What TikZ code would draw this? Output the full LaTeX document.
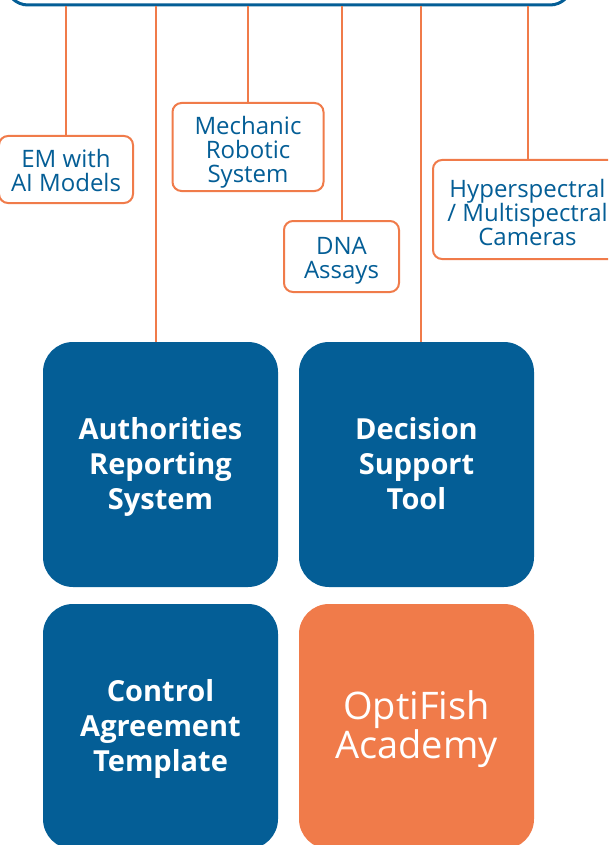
\documentclass[tikz,border=0pt]{standalone}
\usepackage{fontspec}
\setmainfont{Open Sans}
\definecolor{ofblue}{RGB}{4,94,150}
\definecolor{oforange}{RGB}{240,123,74}
\begin{document}
\begin{tikzpicture}[x=1pt,y=-1pt,
  smallbox/.style={draw=oforange,line width=2pt,rounded corners=9pt,fill=white,inner sep=0pt},
  smalltext/.style={text=ofblue,align=center,font=\fontsize{24}{24}\selectfont,inner sep=0pt},
  bigbox/.style={fill=ofblue,rounded corners=30pt,minimum width=235pt,minimum height=245pt,inner sep=0pt},
  bigtext/.style={text=white,align=center,font=\bfseries\fontsize{29}{35}\selectfont,inner sep=0pt},
  link/.style={draw=oforange,line width=2pt}]
\clip (0,0) rectangle (608,845);
\useasboundingbox (0,0) rectangle (608,845);
% top container (mostly outside)
\node[draw=ofblue,line width=3pt,rounded corners=22pt,minimum width=566pt,minimum height=100pt,inner sep=0pt] (top) at (289,-45) {};
% small boxes
\node[smallbox,minimum width=134pt,minimum height=67pt] (em) at (66,169.5) {};
\node[smalltext] (emt) at ([yshift=-1pt]em.center) {EM with\\AI Models};
\node[smallbox,minimum width=151pt,minimum height=88pt] (mech) at (248,147) {};
\node[smalltext] (mecht) at ([yshift=-5pt]mech.center) {Mechanic\\Robotic\\System};
\node[smallbox,minimum width=115pt,minimum height=71pt] (dna) at (341.5,256.5) {};
\node[smalltext] (dnat) at ([yshift=-4pt]dna.center) {DNA\\Assays};
\node[smallbox,minimum width=189pt,minimum height=99pt] (hyper) at (527.5,209.5) {};
\node[smalltext] (hypert) at ([yshift=-3pt]hyper.center) {Hyperspectral\\/ Multispectral\\Cameras};
% big boxes
\node[bigbox] (auth) at (160.5,464.5) {};
\node[bigtext] (autht) at ([yshift=-2pt]auth.center) {Authorities\\Reporting\\System};
\node[bigbox] (dec) at (416.5,464.5) {};
\node[bigtext] (dect) at ([yshift=1pt]dec.center) {Decision\\Support\\Tool};
\node[bigbox] (ctrl) at (160.5,726.5) {};
\node[bigtext] (ctrlt) at ([yshift=-2pt]ctrl.center) {Control\\Agreement\\Template};
\node[bigbox,fill=oforange] (acad) at (416.5,726.5) {};
\node[bigtext,font=\fontsize{38}{39}\selectfont] (acadt) at ([yshift=-3pt]acad.center) {OptiFish\\Academy};
% connectors
\draw[link] (top.south -| em.north) -- (em.north);
\draw[link] (top.south -| mech.north) -- (mech.north);
\draw[link] (top.south -| dna.north) -- (dna.north);
\draw[link] (top.south -| hyper.north) -- (hyper.north);
\draw[link] ([xshift=-4.5pt]top.south -| auth.north) -- ([xshift=-4.5pt]auth.north);
\draw[link] ([xshift=4.5pt]top.south -| dec.north) -- ([xshift=4.5pt]dec.north);
\end{tikzpicture}
\end{document}
